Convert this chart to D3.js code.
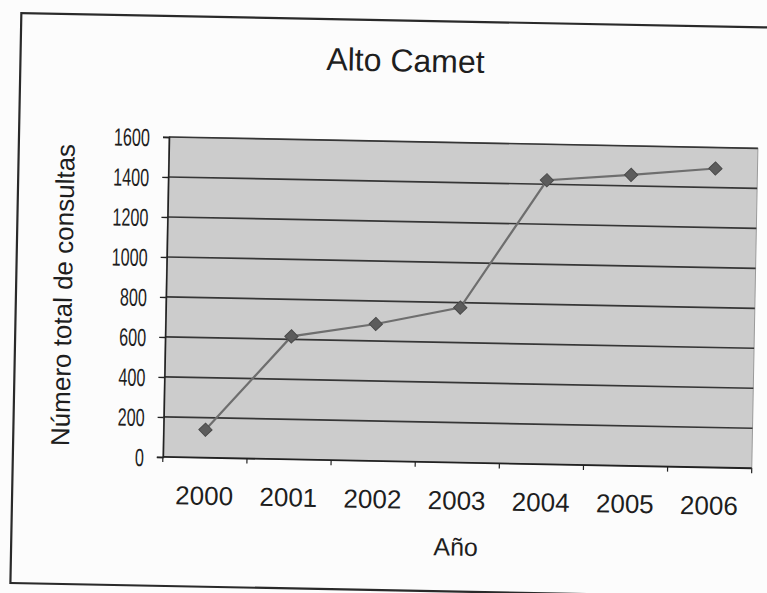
<!DOCTYPE html>
<html>
<head>
<meta charset="utf-8">
<script src="https://cdn.jsdelivr.net/npm/d3@7"></script>
<style>
  body { margin: 0; background: #fcfcfc; }
  svg { display: block; }
  text { font-family: "Liberation Sans", Arial, sans-serif; fill: #1e1e1e; }
</style>
</head>
<body>
<div id="chart"></div>
<script>
// data
const years = ['2000', '2001', '2002', '2003', '2004', '2005', '2006'];
const consultas = [140, 615, 685, 775, 1420, 1455, 1495];
const yTicks = [0, 200, 400, 600, 800, 1000, 1200, 1400, 1600];
const title = 'Alto Camet';
const xTitle = 'Año';
const yTitle = 'Número total de consultas';

const W = 767, H = 593;
const plot = { left: 169, top: 137, width: 589, height: 320 };

const svg = d3.select('#chart').append('svg')
  .attr('width', W)
  .attr('height', H);

// the scan is slightly tilted, rotate everything about the plot's top-left corner
const root = svg.append('g')
  .attr('transform', `rotate(1.1, ${plot.left}, ${plot.top})`);

// outer chart frame
root.append('rect')
  .attr('x', 19).attr('y', 16)
  .attr('width', 820).attr('height', 570)
  .attr('fill', 'none')
  .attr('stroke', '#2a2a2a')
  .attr('stroke-width', 2.2);

root.append('text')
  .attr('x', 404).attr('y', 67)
  .attr('text-anchor', 'middle')
  .attr('font-size', 32)
  .text(title);

const g = root.append('g')
  .attr('transform', `translate(${plot.left},${plot.top})`);

const x = d3.scaleBand().domain(years).range([0, plot.width]);
const y = d3.scaleLinear().domain([0, 1600]).range([plot.height, 0]);

g.append('rect')
  .attr('width', plot.width)
  .attr('height', plot.height)
  .attr('fill', '#cccccc')
  .attr('stroke', '#9a9a9a')
  .attr('stroke-width', 1);

// gridlines
g.append('g')
  .selectAll('line')
  .data(yTicks.filter(d => d > 0))
  .join('line')
  .attr('x1', 0).attr('x2', plot.width)
  .attr('y1', d => y(d)).attr('y2', d => y(d))
  .attr('stroke', '#363636')
  .attr('stroke-width', 1.7);

// y axis
const yAxis = g.append('g')
  .call(d3.axisLeft(y).tickValues(yTicks).tickSize(6).tickPadding(13).tickFormat(d3.format('d')));
yAxis.select('.domain').attr('stroke', '#222').attr('stroke-width', 1.6);
yAxis.selectAll('.tick line').attr('stroke', '#222').attr('stroke-width', 1.4);
yAxis.selectAll('.tick text')
  .attr('font-size', 25)
  .attr('fill', '#1e1e1e')
  .attr('dy', '0.36em')
  .attr('textLength', d => String(d).length * 9)
  .attr('lengthAdjust', 'spacingAndGlyphs');

// x axis, ticks sit on the category boundaries
const xBounds = years.map(d => x(d)).concat([plot.width]);
const xAxis = g.append('g')
  .attr('transform', `translate(0,${plot.height})`);
xAxis.append('line')
  .attr('x1', 0).attr('x2', plot.width)
  .attr('stroke', '#222').attr('stroke-width', 1.8);
xAxis.selectAll('line.tk')
  .data(xBounds)
  .join('line')
  .attr('class', 'tk')
  .attr('x1', d => d).attr('x2', d => d)
  .attr('y1', 0).attr('y2', 5)
  .attr('stroke', '#222').attr('stroke-width', 1.2);
xAxis.selectAll('text')
  .data(years)
  .join('text')
  .attr('x', d => x(d) + x.bandwidth() / 2)
  .attr('y', 47)
  .attr('text-anchor', 'middle')
  .attr('font-size', 26)
  .text(d => d);

// series
const line = d3.line()
  .x((d, i) => x(years[i]) + x.bandwidth() / 2)
  .y(d => y(d));

g.append('path')
  .datum(consultas)
  .attr('d', line)
  .attr('fill', 'none')
  .attr('stroke', '#6e6e6e')
  .attr('stroke-width', 2.2);

g.selectAll('path.marker')
  .data(consultas)
  .join('path')
  .attr('class', 'marker')
  .attr('d', d3.symbol(d3.symbolSquare, 88))
  .attr('transform', (d, i) => `translate(${x(years[i]) + x.bandwidth() / 2},${y(d)}) rotate(45)`)
  .attr('fill', '#5c5c5c')
  .attr('stroke', '#4a4a4a')
  .attr('stroke-width', 1);

// axis titles
root.append('text')
  .attr('x', plot.left + plot.width / 2)
  .attr('y', 550)
  .attr('text-anchor', 'middle')
  .attr('font-size', 25)
  .text(xTitle);

root.append('text')
  .attr('transform', `translate(75,${plot.top + plot.height / 2}) rotate(-90)`)
  .attr('text-anchor', 'middle')
  .attr('font-size', 26)
  .text(yTitle);
</script>
</body>
</html>
